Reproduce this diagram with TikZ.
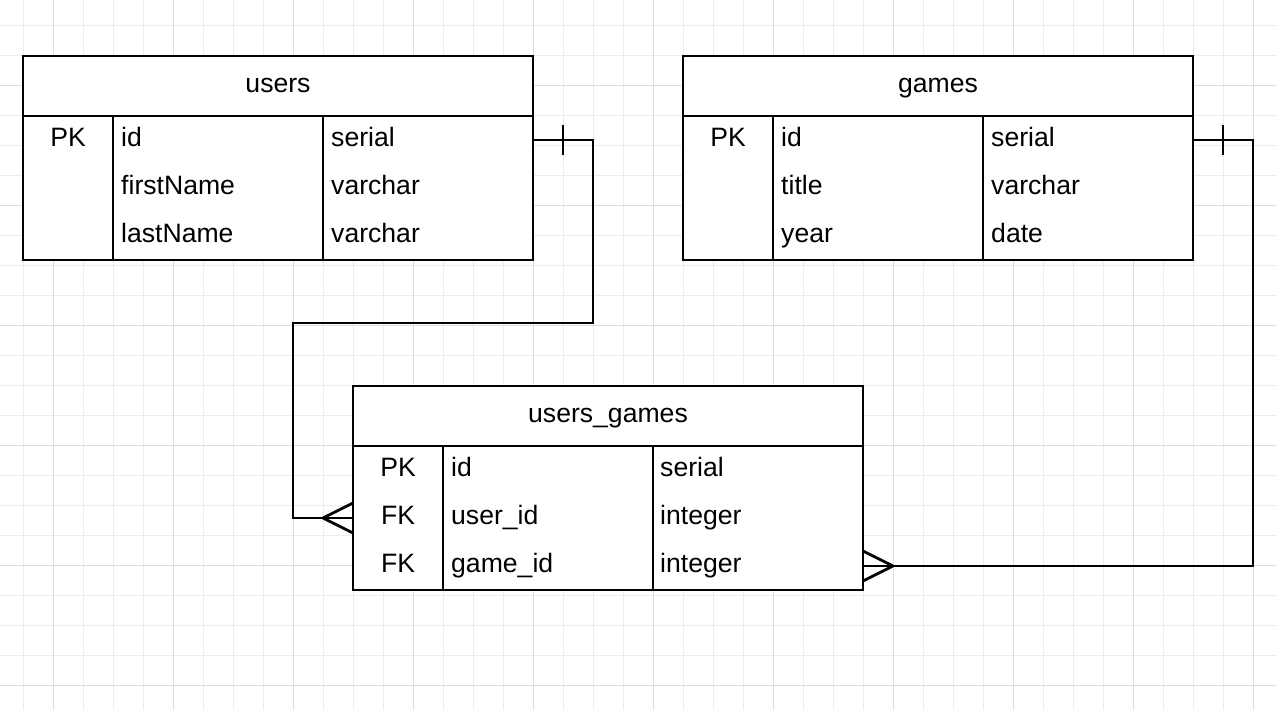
\documentclass[tikz,border=0pt]{standalone}
\usepackage{fontspec}
\setmainfont{Liberation Sans}
\usepackage{tikz}
\usetikzlibrary{positioning}
\definecolor{mminor}{RGB}{236, 236, 236}
\definecolor{mmajor}{RGB}{221, 221, 221}
\tikzset{gridminor/.style = {mminor, line width=1pt},
         gridmajor/.style = {mmajor, line width=1pt},
         tablehead/.style = {draw, fill=white, line width=2.8pt, outer sep=0pt, inner sep=0pt,
                             minimum width=510pt, minimum height=60pt,
                             text height=19pt, text depth=6pt},
         tablebody/.style = {draw, fill=white, line width=2.8pt, outer sep=0pt, inner sep=0pt,
                             minimum width=510pt, minimum height=144pt},
         tablerow/.style = {outer sep=0pt, inner sep=0pt, minimum width=510pt, minimum height=48pt},
         keycell/.style = {inner sep=0pt, text height=19pt, text depth=6pt},
         fieldcell/.style = {anchor=west, inner sep=0pt, text height=19pt, text depth=6pt},
         relline/.style = {line width=2.8pt}}

\begin{document}
\begin{tikzpicture}[x=1pt, y=-1pt, font=\fontsize{26.6}{31}\selectfont]
    \useasboundingbox (0, 0) rectangle (1276, 710);
    \foreach \x in {23, 53, ..., 1276} \draw [gridminor] (\x, 0) -- (\x, 710);
    \foreach \y in {25, 55, ..., 710} \draw [gridminor] (0, \y) -- (1276, \y);
    \foreach \x in {53, 173, ..., 1276} \draw [gridmajor] (\x, 0) -- (\x, 710);
    \foreach \y in {85, 205, ..., 710} \draw [gridmajor] (0, \y) -- (1276, \y);

    \node [tablehead] (users) at (278, 86) {users};
    \node [tablebody, below=0pt of users] (users-body) {};
    \foreach \n/\k/\f/\t [count=\i] in {id/PK/id/serial, first//firstName/varchar, last//lastName/varchar} {
        \node [tablerow] (users-\n) at (278, 92 + 48*\i) {};
        \node [keycell] at ([xshift=45pt]users-\n.west) {\k};
        \node [fieldcell] at ([xshift=98pt]users-\n.west) {\f};
        \node [fieldcell] at ([xshift=308pt]users-\n.west) {\t};
    }
    \draw [relline] ([xshift=90pt]users-body.north west) -- ([xshift=90pt]users-body.south west);
    \draw [relline] ([xshift=300pt]users-body.north west) -- ([xshift=300pt]users-body.south west);

    \node [tablehead] (games) at (938, 86) {games};
    \node [tablebody, below=0pt of games] (games-body) {};
    \foreach \n/\k/\f/\t [count=\i] in {id/PK/id/serial, title//title/varchar, year//year/date} {
        \node [tablerow] (games-\n) at (938, 92 + 48*\i) {};
        \node [keycell] at ([xshift=45pt]games-\n.west) {\k};
        \node [fieldcell] at ([xshift=98pt]games-\n.west) {\f};
        \node [fieldcell] at ([xshift=308pt]games-\n.west) {\t};
    }
    \draw [relline] ([xshift=90pt]games-body.north west) -- ([xshift=90pt]games-body.south west);
    \draw [relline] ([xshift=300pt]games-body.north west) -- ([xshift=300pt]games-body.south west);

    \node [tablehead] (ug) at (608, 416) {users\_games};
    \node [tablebody, below=0pt of ug] (ug-body) {};
    \foreach \n/\k/\f/\t [count=\i] in {id/PK/id/serial, user/FK/user\_id/integer, game/FK/game\_id/integer} {
        \node [tablerow] (ug-\n) at (608, 422 + 48*\i) {};
        \node [keycell] at ([xshift=45pt]ug-\n.west) {\k};
        \node [fieldcell] at ([xshift=98pt]ug-\n.west) {\f};
        \node [fieldcell] at ([xshift=307pt]ug-\n.west) {\t};
    }
    \draw [relline] ([xshift=90pt]ug-body.north west) -- ([xshift=90pt]ug-body.south west);
    \draw [relline] ([xshift=300pt]ug-body.north west) -- ([xshift=300pt]ug-body.south west);

    \draw [relline] (users-id.east) -- ++(60, 0) -- ++(0, 183) -- ++(-300, 0) |- (ug-user.west);
    \draw [relline] ([xshift=30pt]users-id.east) ++(0, -15) -- ++(0, 30);
    \draw [relline] ([xshift=-30pt]ug-user.west) -- ++(30, -15) ([xshift=-30pt]ug-user.west) -- ++(30, 15);

    \draw [relline] (games-id.east) -- ++(60, 0) |- (ug-game.east);
    \draw [relline] ([xshift=30pt]games-id.east) ++(0, -15) -- ++(0, 30);
    \draw [relline] ([xshift=30pt]ug-game.east) -- ++(-30, -15) ([xshift=30pt]ug-game.east) -- ++(-30, 15);
\end{tikzpicture}
\end{document}
